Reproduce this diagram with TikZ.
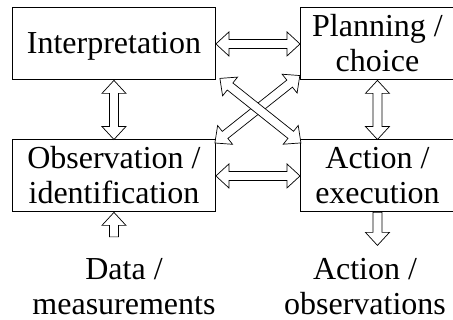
\documentclass[tikz,border=0pt]{standalone}
\usepackage{fontspec}
\setmainfont{Liberation Serif}
\usetikzlibrary{calc}

\tikzset{
  box/.style={draw=black, line width=0.9pt, inner sep=0pt, align=center,
    font=\fontsize{32pt}{35pt}\selectfont, anchor=north west},
  twoline/.style={text height=64pt, text depth=8pt},
  lbl/.style={inner sep=0pt, align=center, font=\fontsize{32pt}{35pt}\selectfont,
    text height=35pt, text depth=0pt, anchor=north},
  blockarrow/.style={draw=black, fill=white, line width=0.7pt, line join=miter}
}

% hollow block arrow with heads at both ends, from #2 to #3
\newcommand\blkdouble[3][]{%
  \path let \p1=#2, \p2=#3 in \pgfextra{%
    \pgfmathsetmacro\barang{atan2(\y2-\y1,\x2-\x1)}%
    \pgfmathsetmacro\barlen{veclen(\x2-\x1,\y2-\y1)}%
    \xdef\barang{\barang}\xdef\barlen{\barlen}%
    \xdef\barx{\x1}\xdef\bary{\y1}};
  \draw[blockarrow,#1,shift={(\barx,\bary)},rotate=\barang]
    (0,0) -- (13,12) -- (13,4.5) -- (\barlen-13,4.5) -- (\barlen-13,12) -- (\barlen,0)
    -- (\barlen-13,-12) -- (\barlen-13,-4.5) -- (13,-4.5) -- (13,-12) -- cycle;
}
% hollow block arrow with one head, pointing from #2 to #3
\newcommand\blksingle[3][]{%
  \path let \p1=#2, \p2=#3 in \pgfextra{%
    \pgfmathsetmacro\barang{atan2(\y2-\y1,\x2-\x1)}%
    \pgfmathsetmacro\barlen{veclen(\x2-\x1,\y2-\y1)}%
    \xdef\barang{\barang}\xdef\barlen{\barlen}%
    \xdef\barx{\x1}\xdef\bary{\y1}};
  \draw[blockarrow,#1,shift={(\barx,\bary)},rotate=\barang]
    (0,-4.5) -- (\barlen-13,-4.5) -- (\barlen-13,-12) -- (\barlen,0)
    -- (\barlen-13,12) -- (\barlen-13,4.5) -- (0,4.5) -- cycle;
}

\begin{document}
\begin{tikzpicture}[x=1pt, y=1pt]
  \useasboundingbox (0,0) rectangle (453,-320);
  \clip (0,0) rectangle (453,-320);

  % the four stages
  \node[box, minimum width=203pt, text height=45.5pt, text depth=26.5pt]
    (interp) at (12,-7.5) {Interpretation};
  \node[box, twoline, minimum width=154pt] (plan) at (300,-7.5) {Planning /\\choice};
  \node[box, twoline, minimum width=203pt] (obs) at (12,-139.5) {Observation /\\identification};
  \node[box, twoline, minimum width=154pt] (act) at (300,-139.5) {Action /\\execution};

  % inputs and outputs
  \node[lbl] (data) at (124,-279) {Data /\\measurements};
  \node[lbl] (aobs) at (365,-279) {Action /\\observations};
  \coordinate (dtail) at ($(obs.south)+(0,-24.5)$);
  \coordinate (atip) at ($(act.south)+(0,-33)$);

  % links between the stages
  \blkdouble{(interp.east)}{(plan.west)}
  \blkdouble{(obs.east)}{(act.west)}
  \blkdouble{(interp.south)}{(obs.north)}
  \blkdouble{(plan.south)}{(act.north)}
  \blkdouble{($(obs.north east)+(-1,-3.5)$)}{($(plan.south west)+(0,5)$)}
  \blkdouble{($(interp.south east)+(4,2)$)}{($(act.north west)+(1,-3.5)$)}

  \blksingle{(dtail)}{(obs.south)}
  \blksingle{(act.south)}{(atip)}
\end{tikzpicture}
\end{document}
